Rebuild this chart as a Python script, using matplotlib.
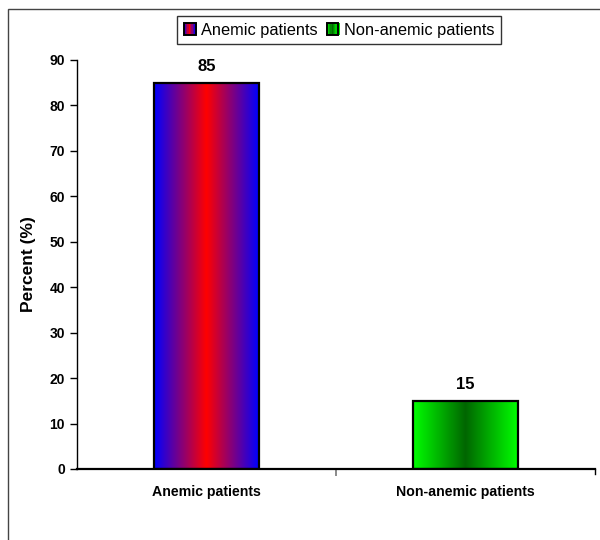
import matplotlib
matplotlib.use("Agg")
import matplotlib.pyplot as plt
import numpy as np
from matplotlib.patches import Rectangle
from matplotlib.colors import LinearSegmentedColormap
from matplotlib.legend_handler import HandlerBase

plt.rcParams['font.family'] = ['Liberation Sans', 'DejaVu Sans']

groups = ["Anemic patients", "Non-anemic patients"]
percent = [85, 15]
yticks = [0, 10, 20, 30, 40, 50, 60, 70, 80, 90]

# edge / centre colours of the horizontal bar gradients
grad_colors = [("#0000ff", "#ff0000"), ("#00ff00", "#006600")]

fig = plt.figure(figsize=(6.0, 5.4), dpi=100)
ax = fig.add_axes([0.128, 0.1315, 0.864, 0.7575])

x = np.arange(len(groups))
width = 0.405
ax.set_xlim(-0.5, len(groups) - 0.5)
ax.set_ylim(0, 90)

bars = ax.bar(x, percent, width, facecolor="none", edgecolor="black",
              linewidth=1.6, zorder=3)

for bar, (edge, mid) in zip(bars, grad_colors):
    cmap = LinearSegmentedColormap.from_list("g", [edge, mid, edge])
    grad = np.linspace(0, 1, 256).reshape(1, -1)
    bx, by = bar.get_x(), bar.get_y()
    im = ax.imshow(grad, cmap=cmap, aspect="auto", zorder=2,
                   extent=[bx, bx + bar.get_width(), by, by + bar.get_height()])
    im.set_clip_path(bar)

for xi, v in zip(x, percent):
    ax.text(xi, v + 2, str(v), ha="center", va="bottom",
            fontsize=12, fontweight="bold")

ax.set_xticks([0.5], minor=False)
ax.set_xticklabels([""])
ax.tick_params(axis="x", length=5, color="#777777", width=1.2)
for xi, g in zip(x, groups):
    ax.text(xi, -3.5, g, ha="center", va="top", fontsize=10.2,
            fontweight="bold")

ax.set_yticks(yticks)
ax.set_yticklabels([str(t) for t in yticks], fontsize=10, fontweight="bold")
ax.tick_params(axis="y", length=5, width=1.0)
ax.set_ylabel("Percent (%)", fontsize=12.5, fontweight="bold", labelpad=10)

ax.spines["top"].set_visible(False)
ax.spines["right"].set_visible(False)
ax.spines["left"].set_linewidth(1.0)
ax.spines["bottom"].set_linewidth(1.6)
ax.plot([1.5, 1.5], [0, -1.1], color="black", lw=1.0, clip_on=False)
ax.set_xlim(-0.5, 1.5)


class GradientHandler(HandlerBase):
    # small square swatch filled with the same left-right gradient
    def create_artists(self, legend, orig, xdescent, ydescent, width,
                       height, fontsize, trans):
        edge, mid = orig.grad
        s = height
        x0 = xdescent + (width - s) / 2
        parts = []
        n = 9
        cmap = LinearSegmentedColormap.from_list("h", [edge, mid, edge])
        for i in range(n):
            parts.append(Rectangle((x0 + i * s / n, -ydescent), s / n * 1.6, s,
                                   facecolor=cmap((i + 0.5) / n),
                                   edgecolor="none", snap=False,
                                   antialiased=False, transform=trans))
        parts.append(Rectangle((x0, -ydescent), s, s, facecolor="none",
                               edgecolor="black", lw=1.4, transform=trans))
        return parts


handles = []
for gc in grad_colors:
    h = Rectangle((0, 0), 1, 1)
    h.grad = gc
    handles.append(h)

fig.legend(handles, groups, loc="center", bbox_to_anchor=(0.565, 0.944),
           ncol=2, fontsize=11.8, frameon=True, fancybox=False,
           edgecolor="black", handler_map={Rectangle: GradientHandler()},
           handlelength=0.8, handletextpad=0.3, columnspacing=0.5,
           borderpad=0.4)

fig.patches.append(Rectangle((8 / 600, -0.1), 1.2, 1 - 9 / 540 + 0.1,
                             transform=fig.transFigure, fill=False,
                             edgecolor="#444444", lw=1.0))

fig.savefig("out.png", dpi=100)
